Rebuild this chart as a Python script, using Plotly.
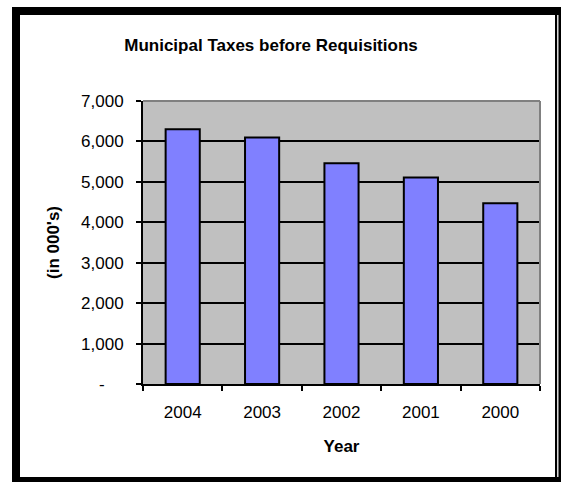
import plotly.graph_objects as go

# ---- data ----
years = ["2004", "2003", "2002", "2001", "2000"]
taxes = [6300, 6100, 5460, 5110, 4470]
y_tick_vals = [0, 1000, 2000, 3000, 4000, 5000, 6000, 7000]
y_tick_text = ["-\u2007\u2007", "1,000", "2,000", "3,000", "4,000", "5,000", "6,000", "7,000"]

W, H = 561, 482
L, R, T, B = 143, 540, 101, 384  # plot area pixel bounds


def px(x):
    return (x - L) / (R - L)


def py(y):
    return (B - y) / (B - T)


FONT = "Liberation Sans, Arial, sans-serif"

fig = go.Figure(
    go.Bar(
        x=years,
        y=taxes,
        marker=dict(color="#8080FF", line=dict(color="black", width=2)),
        hoverinfo="skip",
    )
)

fig.update_layout(
    width=W,
    height=H,
    margin=dict(l=L, r=W - R, t=T, b=H - B, pad=0),
    paper_bgcolor="white",
    plot_bgcolor="#C0C0C0",
    bargap=0.57,
    showlegend=False,
    font=dict(family=FONT, size=17, color="black"),
    title=dict(
        text="<b>Municipal Taxes before Requisitions</b>",
        x=271 / W,
        xanchor="center",
        xref="container",
        y=1 - 45 / H,
        yanchor="middle",
        yref="container",
        font=dict(family=FONT, size=17, color="black"),
    ),
    xaxis=dict(
        type="category",
        showline=True,
        linecolor="black",
        linewidth=2,
        ticks="outside",
        tickson="boundaries",
        ticklen=5,
        tickwidth=2,
        tickcolor="black",
        ticklabelstandoff=12,
        showgrid=False,
        tickfont=dict(family=FONT, size=17),
        title=dict(text="<b>Year</b>", standoff=19, font=dict(family=FONT, size=17)),
        automargin=False,
    ),
    yaxis=dict(
        range=[0, 7000],
        tickvals=y_tick_vals,
        ticktext=y_tick_text,
        showline=True,
        linecolor="black",
        linewidth=2,
        ticks="outside",
        ticklen=5,
        tickwidth=2,
        tickcolor="black",
        ticklabelstandoff=9,
        showgrid=True,
        gridcolor="black",
        gridwidth=2,
        zeroline=False,
        tickfont=dict(family=FONT, size=17),
        title=dict(text="<b>(in 000's)</b>", standoff=17, font=dict(family=FONT, size=17)),
        automargin=False,
    ),
    shapes=[
        # plot-area border (gray top and right)
        dict(type="line", xref="paper", yref="paper", x0=0, x1=1, y0=1, y1=1,
             line=dict(color="#808080", width=2), layer="above"),
        dict(type="line", xref="paper", yref="paper", x0=1, x1=1, y0=0, y1=1,
             line=dict(color="#808080", width=2), layer="above"),
        # outer thick black frame
        dict(type="rect", xref="paper", yref="paper",
             x0=px(16), x1=px(559), y0=py(481), y1=py(11),
             line=dict(color="black", width=8), layer="above"),
        # thin white line inside the right frame edge
        dict(type="line", xref="paper", yref="paper",
             x0=px(557.8), x1=px(557.8), y0=py(477), y1=py(15),
             line=dict(color="white", width=1.3), layer="above"),
    ],
)

fig.write_html(
    "out.html",
    config={"displayModeBar": False, "staticPlot": True},
    post_script="document.body.style.margin='0';document.body.style.overflow='hidden';",
)
